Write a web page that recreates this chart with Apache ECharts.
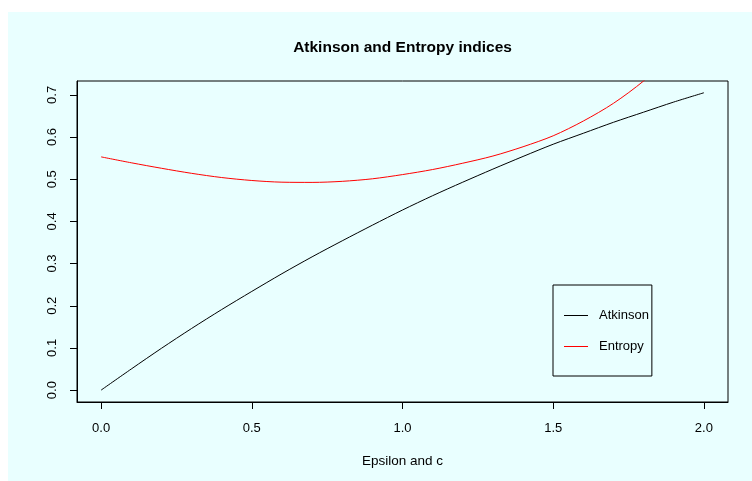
<!DOCTYPE html>
<html>
<head>
<meta charset="utf-8">
<script src="https://cdn.jsdelivr.net/npm/echarts@6/dist/echarts.min.js"></script>
<style>
html,body{margin:0;padding:0;background:#ffffff;}
#c{position:absolute;left:8px;top:12px;width:744px;height:469px;}
</style>
</head>
<body>
<div id="c"></div>
<script>
var xValues = [0.0,0.1,0.2,0.3,0.4,0.5,0.6,0.7,0.8,0.9,1.0,1.1,1.2,1.3,1.4,1.5,1.6,1.7,1.8,1.9,2.0];
var atkinson = [0.000,0.050,0.099,0.146,0.191,0.234,0.276,0.316,0.354,0.391,0.427,0.461,0.493,0.524,0.554,0.583,0.609,0.635,0.659,0.683,0.705];
var entropy = [0.553,0.539,0.526,0.514,0.504,0.497,0.493,0.4925,0.495,0.501,0.511,0.523,0.538,0.555,0.577,0.603,0.638,0.680,0.733,0.798,0.878];
var xTicks = [0.0,0.5,1.0,1.5,2.0];
var yTicks = [0.0,0.1,0.2,0.3,0.4,0.5,0.6,0.7];
var seriesNames = ['Atkinson','Entropy'];
var titleText = 'Atkinson and Entropy indices';
var xName = 'Epsilon and c';

var FONT = "'Liberation Sans', Arial, Helvetica, sans-serif";
function pairs(vals){ return xValues.map(function(x,i){ return [x, vals[i]]; }); }

var chart = echarts.init(document.getElementById('c'), null, {renderer:'canvas'});
chart.setOption({
  backgroundColor: '#E9FFFF',
  animation: false,
  graphic: [{
    type: 'text', x: 394.5, y: 36, z: 10,
    style: { text: titleText, textAlign: 'center', textVerticalAlign: 'middle',
             font: 'bold 15.5px ' + FONT, fill: '#000' }
  }],
  grid: { left: 69, top: 69, width: 651, height: 321, show: true,
          borderColor: '#000', borderWidth: 1, backgroundColor: 'transparent' },
  legend: {
    orient: 'vertical', left: 545, top: 273,
    padding: [24, 3, 23, 11], itemGap: 18,
    itemWidth: 24, itemHeight: 1, icon: 'rect',
    borderColor: '#000', borderWidth: 1, backgroundColor: 'transparent',
    textStyle: { fontFamily: FONT, fontSize: 13, color: '#000', padding: [0,0,0,6] },
    data: seriesNames
  },
  xAxis: {
    type: 'value', min: -0.08, max: 2.08,
    name: xName, nameLocation: 'middle', nameGap: 52,
    nameTextStyle: { fontFamily: FONT, fontSize: 13.5, color: '#000' },
    axisLine: { show: true, onZero: false, lineStyle: { color: '#000', width: 1 } },
    axisTick: { show: true, length: 7, customValues: xTicks, lineStyle: { color: '#000' } },
    axisLabel: { customValues: xTicks, margin: 20, fontFamily: FONT, fontSize: 13, color: '#000',
                 formatter: function(v){ return v.toFixed(1); } },
    splitLine: { show: false }
  },
  yAxis: {
    type: 'value', min: -0.0282, max: 0.7329,
    axisLine: { show: true, onZero: false, lineStyle: { color: '#000', width: 1 } },
    axisTick: { show: true, length: 7, customValues: yTicks, lineStyle: { color: '#000' } },
    axisLabel: { customValues: yTicks, rotate: 90, margin: 18, fontFamily: FONT, fontSize: 13, color: '#000',
                 formatter: function(v){ return v.toFixed(1); } },
    splitLine: { show: false }
  },
  series: [
    { name: seriesNames[0], type: 'line', data: pairs(atkinson), smooth: 0.3, showSymbol: false,
      symbol: 'none', clip: true, lineStyle: { color: '#000000', width: 1 }, itemStyle: { color: '#000000' } },
    { name: seriesNames[1], type: 'line', data: pairs(entropy), smooth: 0.3, showSymbol: false,
      symbol: 'none', clip: true, lineStyle: { color: '#FF0000', width: 1 }, itemStyle: { color: '#FF0000' } }
  ]
});
</script>
</body>
</html>
